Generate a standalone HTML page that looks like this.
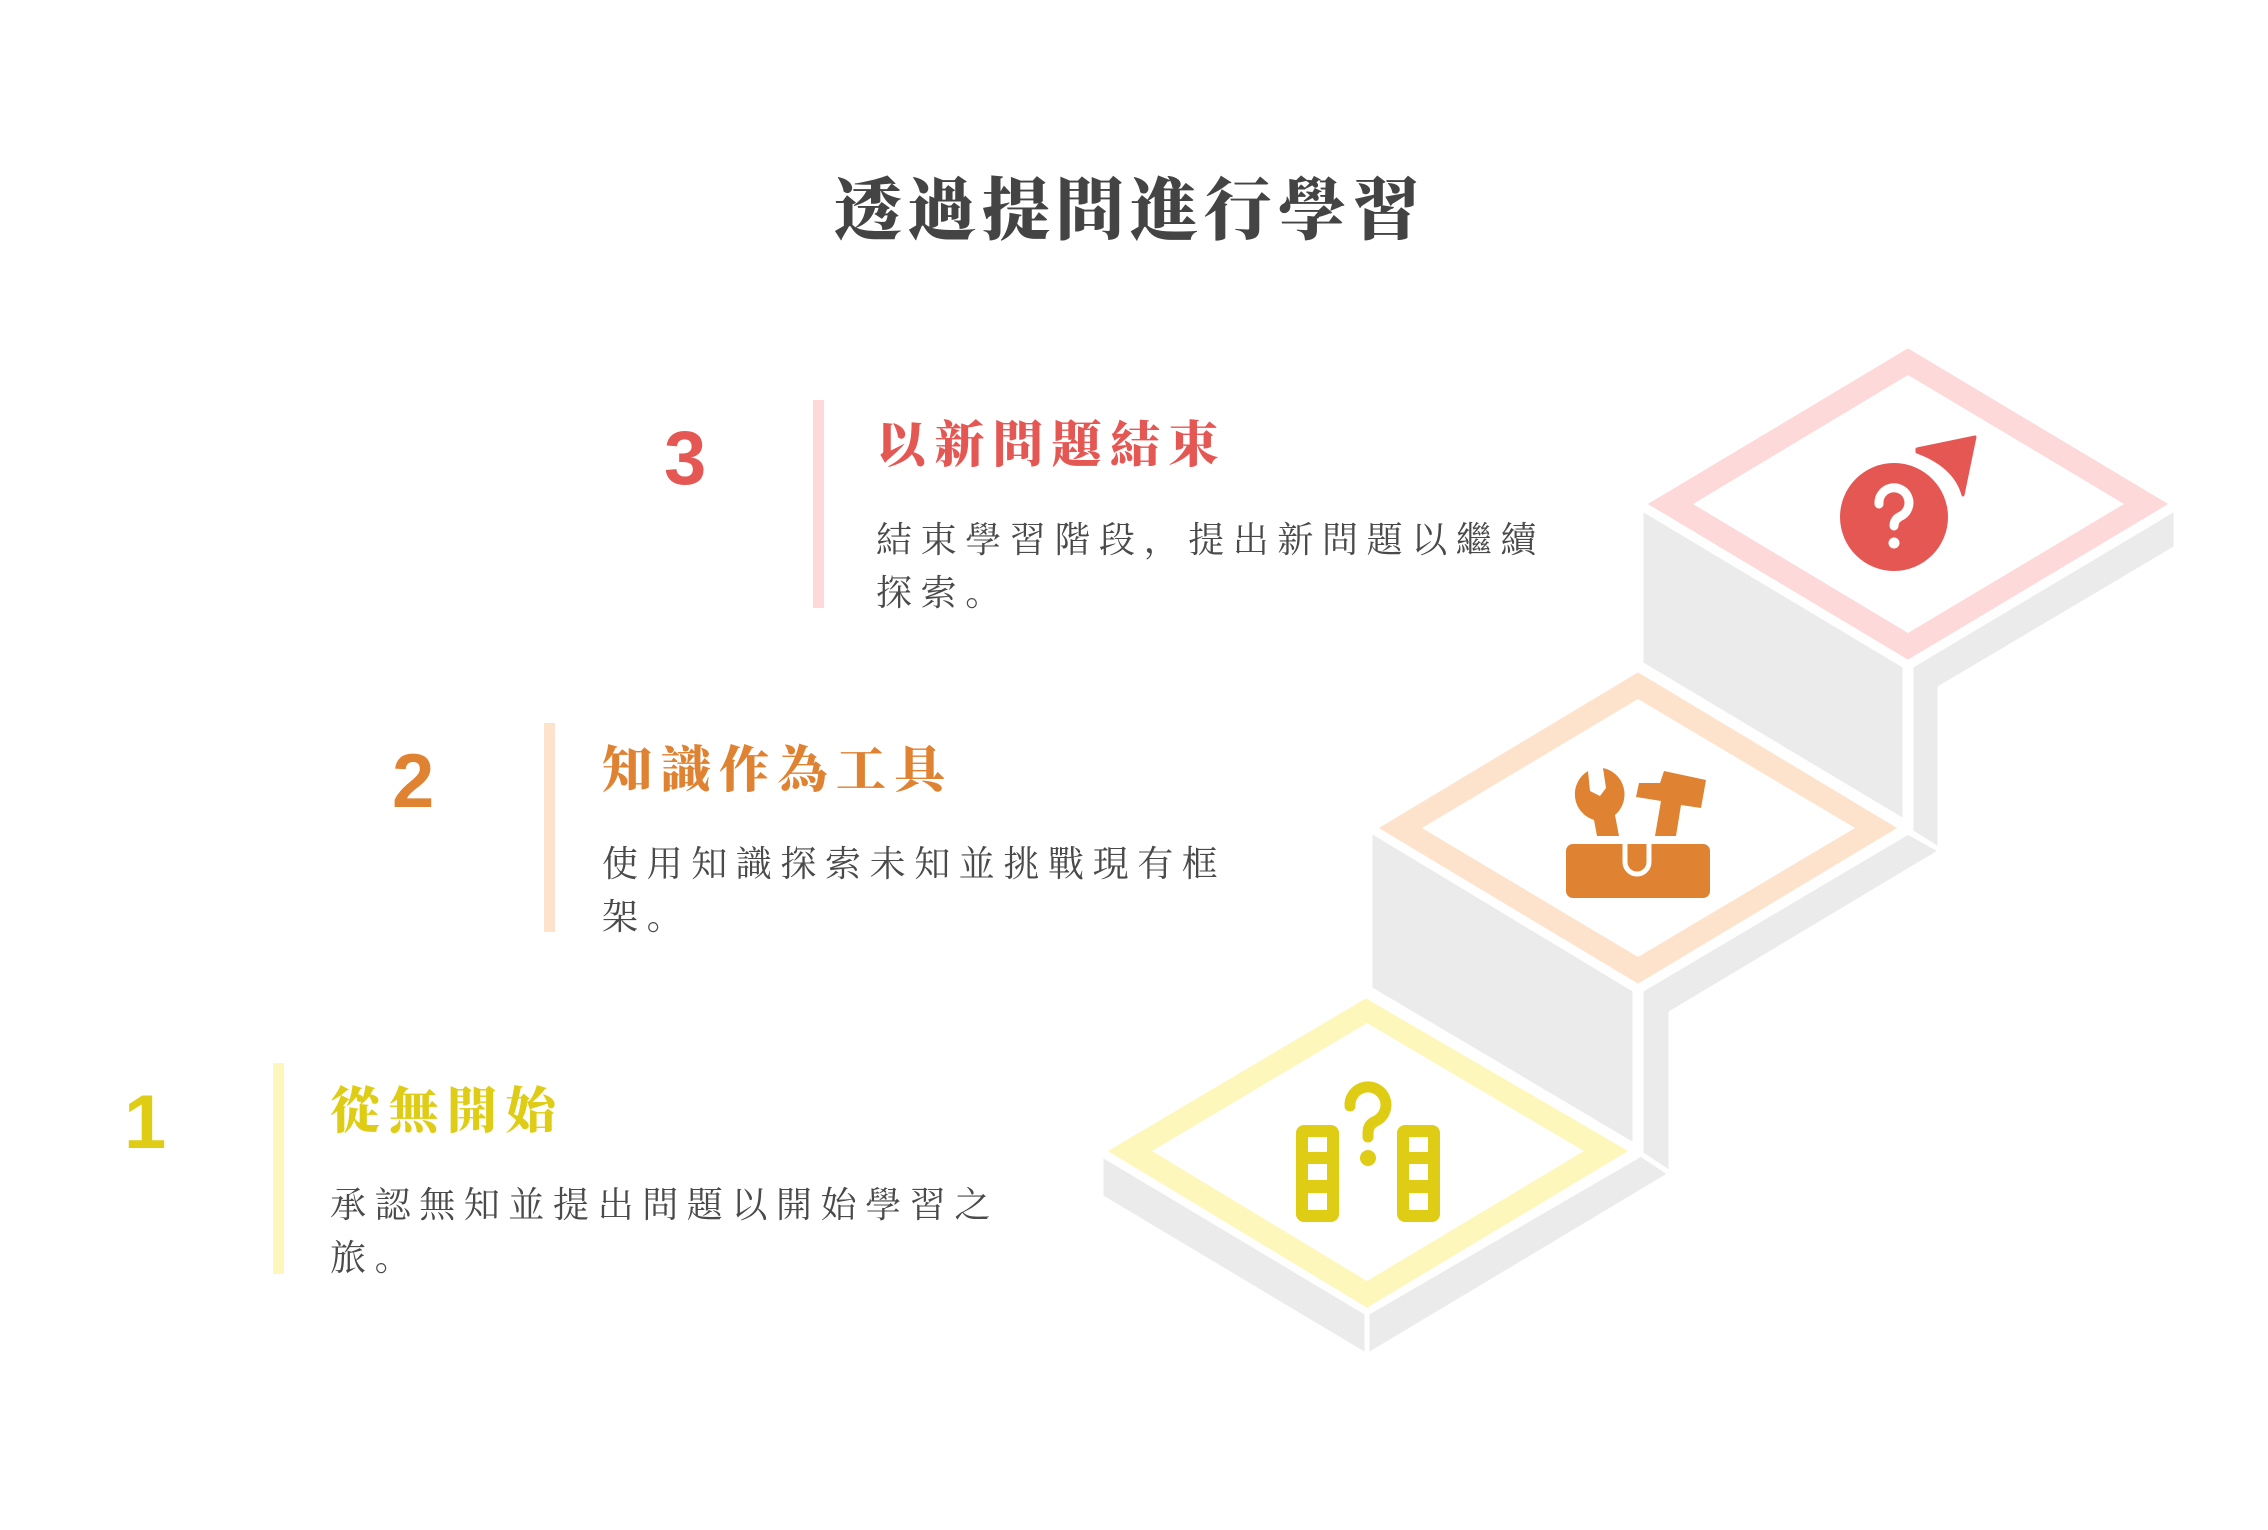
<!DOCTYPE html>
<html><head><meta charset="utf-8"><style>
html,body{margin:0;padding:0;background:#fff;}
svg{display:block}
.t{font-family:"Liberation Serif","Noto Serif CJK SC","Noto Serif CJK TC",serif;}
.h{font-family:"Liberation Serif","Noto Serif CJK SC",serif;font-weight:900;font-size:50px;letter-spacing:8.5px}
.d{font-family:"Liberation Serif","Noto Serif CJK SC",serif;font-weight:400;font-size:36px;letter-spacing:8.6px;fill:#4a4a4a}
.n{font-family:"Liberation Sans",sans-serif;font-weight:700;font-size:76px}
</style></head><body>
<svg width="2268" height="1530" viewBox="0 0 2268 1530" xmlns="http://www.w3.org/2000/svg">
<rect width="2268" height="1530" fill="#fff"/>
<text x="1130" y="234" text-anchor="middle" class="t" style="font-size:68px;font-weight:900;letter-spacing:6px" fill="#444">透過提問進行學習</text>

<!-- gray faces -->
<g fill="#ebebeb" stroke="#fff" stroke-width="5" stroke-linejoin="round">
<polygon points="1641,508 1641,664 1905,822 1905,666"/>
<polygon points="1911,666 2176,508 2176,548 1940,688 1940,850 1911,832"/>
<polygon points="1370,830 1370,989 1635,1146 1635,990"/>
<polygon points="1641,990 1908,832 1940,850 1940,852 1671,1013 1671,1174 1641,1154"/>
<polygon points="1101,1154 1101,1197 1367,1356 1367,1313"/>
<polygon points="1367,1313 1641,1154 1671,1174 1367,1356"/>
</g>

<!-- diamonds -->
<polygon points="1908,346 2172,504 1908,662 1644,504" fill="#fdd9d9" stroke="#fff" stroke-width="4"/>
<polygon points="1908,375 2124,504 1908,633 1693,504" fill="#fff"/>
<polygon points="1638,670 1901,828 1638,986 1375,828" fill="#fde3cc" stroke="#fff" stroke-width="4"/>
<polygon points="1638,699 1855,828 1638,957 1422,828" fill="#fff"/>
<polygon points="1366,996 1632,1151 1367,1310 1104,1151" fill="#fef7bb" stroke="#fff" stroke-width="4"/>
<polygon points="1367,1023 1584,1151 1367,1281 1152,1151" fill="#fff"/>

<!-- red icon -->
<circle cx="1894" cy="517" r="54" fill="#e55753"/>
<path d="M1879,504 a15,15 0 1 1 22,12 q-7,3 -7,10" fill="none" stroke="#fff" stroke-width="9" stroke-linecap="round"/>
<circle cx="1894" cy="543" r="5.5" fill="#fff"/>
<path d="M1917,449 L1975,437 L1963,495 Q1955,466 1917,452 Z" fill="#e55753" stroke="#e55753" stroke-width="3" stroke-linejoin="round"/>

<!-- orange icon -->
<rect x="1566" y="844" width="144" height="54" rx="7" fill="#df8232"/>
<path d="M1625,844 v18 a12,12 0 0 0 24,0 v-18" fill="none" stroke="#fff" stroke-width="5"/>
<path d="M1588,771 L1590,791 L1600,796 L1606,788 L1603,768 A27,27 0 0 1 1615,815 L1619,836 L1597,836 L1594,820 A27,27 0 0 1 1588,771 Z" fill="#df8232"/>
<polygon points="1639,783 1660,783 1664,771 1706,780 1701,808 1681,805 1676,836 1655,836 1661,801 1636,797" fill="#df8232"/>

<!-- yellow icon -->
<g fill="none" stroke="#dfcc14" stroke-width="12" stroke-linejoin="round">
<rect x="1302" y="1131" width="31" height="85" rx="2"/>
<rect x="1403" y="1131" width="31" height="85" rx="2"/>
</g>
<g fill="#dfcc14">
<rect x="1302" y="1152" width="31" height="12"/><rect x="1302" y="1180" width="31" height="13"/>
<rect x="1403" y="1152" width="31" height="12"/><rect x="1403" y="1180" width="31" height="13"/>
<circle cx="1368" cy="1158" r="8"/>
</g>
<path d="M1350,1106 a18,18 0 1 1 26,15 q-8,3 -8,12 v4" fill="none" stroke="#dfcc14" stroke-width="11" stroke-linecap="round"/>

<!-- step 3 -->
<text x="664" y="484" class="n" fill="#e55753">3</text>
<rect x="813" y="400" width="11" height="208" fill="#fdd9d9"/>
<text x="876" y="462" class="h" fill="#e55753">以新問題結束</text>
<text x="876" y="552" class="d">結束學習階段，提出新問題以繼續</text>
<text x="876" y="605" class="d">探索。</text>

<!-- step 2 -->
<text x="392" y="807" class="n" fill="#df8232">2</text>
<rect x="544" y="723" width="11" height="209" fill="#fde3cc"/>
<text x="602" y="787" class="h" fill="#df8232">知識作為工具</text>
<text x="602" y="876" class="d">使用知識探索未知並挑戰現有框</text>
<text x="602" y="929" class="d">架。</text>

<!-- step 1 -->
<text x="124" y="1148" class="n" fill="#dfcc14">1</text>
<rect x="273" y="1063" width="11" height="211" fill="#fef7bb"/>
<text x="330" y="1128" class="h" fill="#dfcc14">從無開始</text>
<text x="330" y="1217" class="d">承認無知並提出問題以開始學習之</text>
<text x="330" y="1270" class="d">旅。</text>
</svg>
</body></html>
